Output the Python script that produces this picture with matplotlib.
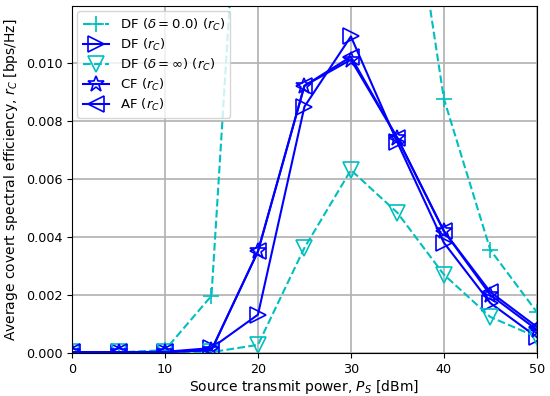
import numpy as np
import matplotlib
matplotlib.use('Agg')
import matplotlib.pyplot as plt

plt.rcParams['font.size'] = 10

# transmit power [dBm]
ps = [0, 5, 10, 15, 20, 25, 30, 35, 40, 45, 50]

# average covert spectral efficiency r_C [bps/Hz]
df_delta0 = [0.00002, 0.00002, 0.0001, 0.00197, 0.0276, 0.045, 0.05, 0.0193, 0.00876, 0.00355, 0.00141]
df_rc = [0.00003, 0.00003, 0.00004, 0.00017, 0.00132, 0.00848, 0.0109, 0.00725, 0.0038, 0.00172, 0.00055]
df_inf = [0.00002, 0.00002, 0.00002, 0.00003, 0.00028, 0.00362, 0.0063, 0.00483, 0.0027, 0.00124, 0.00055]
cf_rc = [0.00003, 0.00003, 0.00003, 0.0001, 0.0035, 0.0092, 0.0101, 0.0074, 0.0042, 0.0020, 0.0008]
af_rc = [0.00003, 0.00003, 0.00003, 0.0001, 0.0035, 0.0092, 0.0102, 0.0074, 0.0042, 0.0021, 0.0009]

fig = plt.figure(figsize=(5.5, 3.96), dpi=100)
ax = fig.add_axes([0.131, 0.1086, 0.845, 0.8764])

ms = 12
ax.plot(ps, df_delta0, 'c--', marker='+', ms=ms, mew=1.2, label=r'DF ($\delta=0.0$) ($r_C$)')
ax.plot(ps, df_rc, 'b-', marker='>', ms=ms, mew=1.2, fillstyle='none', label=r'DF ($r_C$)')
ax.plot(ps, df_inf, 'c--', marker='v', ms=ms, mew=1.2, fillstyle='none', label=r'DF ($\delta=\infty$) ($r_C$)')
ax.plot(ps, cf_rc, 'b-', marker='*', ms=ms, mew=1.2, fillstyle='none', label=r'CF ($r_C$)')
ax.plot(ps, af_rc, 'b-', marker='<', ms=ms, mew=1.2, fillstyle='none', label=r'AF ($r_C$)')

ax.set_xlim(0, 50)
ax.set_ylim(0, 0.01195)
ax.set_xticks(np.arange(0, 51, 10))
ax.set_yticks(np.arange(0, 0.0101, 0.002))
ax.yaxis.set_major_formatter(matplotlib.ticker.FormatStrFormatter('%.3f'))
ax.tick_params(labelsize=9.2)
ax.grid(True, color='#b0b0b0', linewidth=1.2)
ax.set_xlabel(r'Source transmit power, $P_S$ [dBm]', labelpad=1.5)
ax.set_ylabel(r'Average covert spectral efficiency, $r_C$ [bps/Hz]')
ax.legend(loc='upper left', fontsize=9.5, labelspacing=0.3, borderaxespad=0.4)

fig.savefig('out.png', dpi=100)
